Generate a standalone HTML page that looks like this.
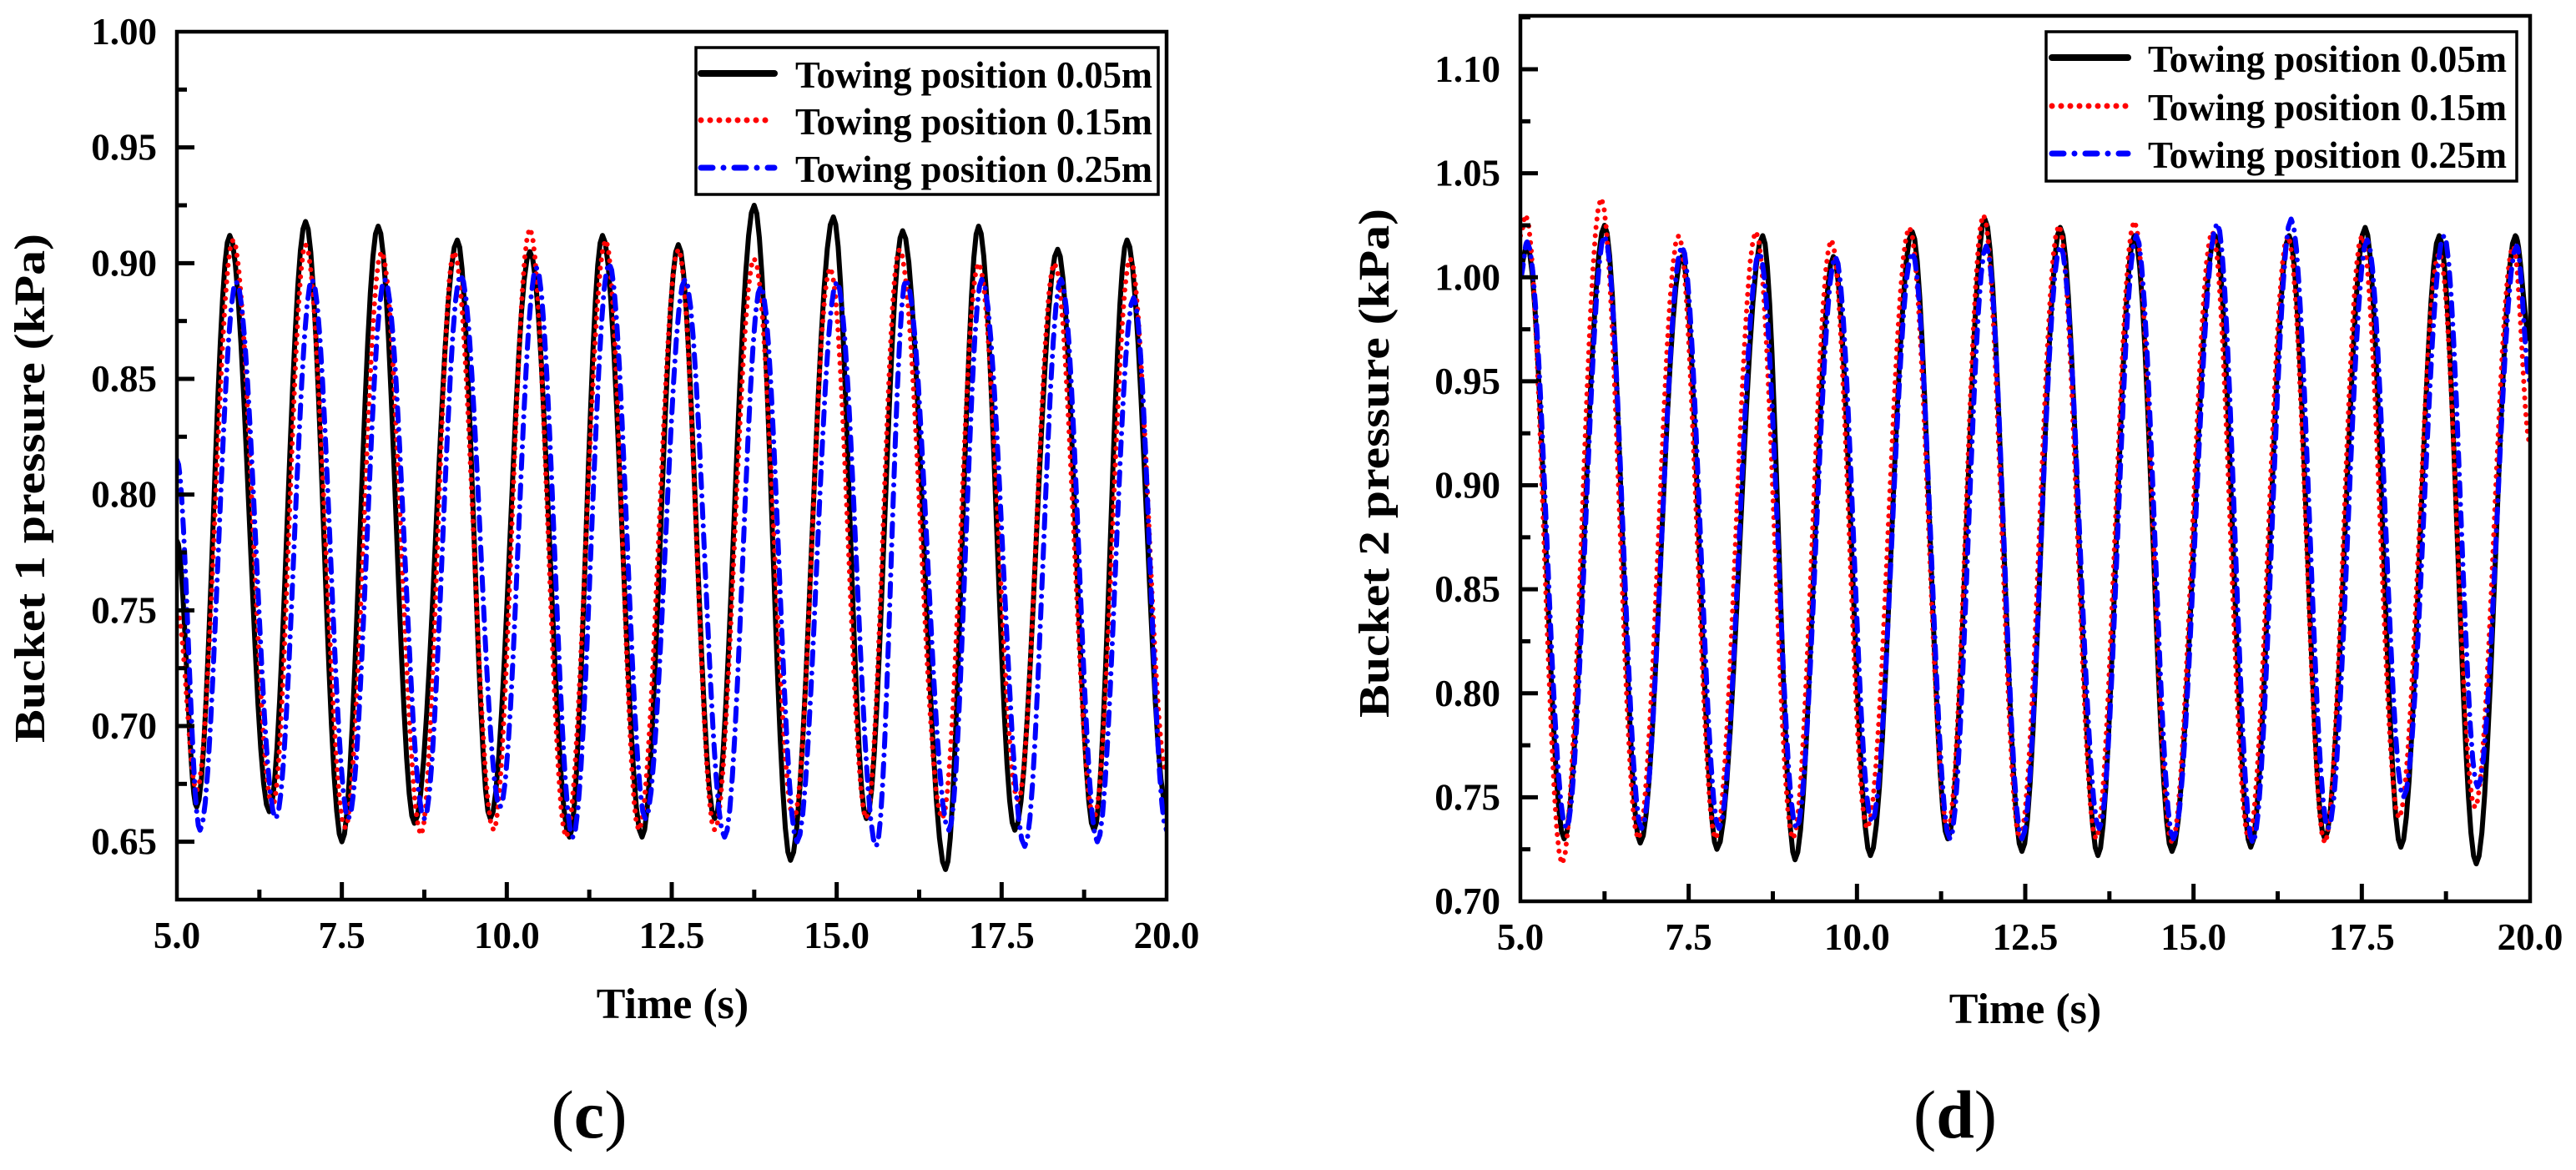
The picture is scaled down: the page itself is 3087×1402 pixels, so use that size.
<!DOCTYPE html>
<html><head><meta charset="utf-8"><style>
html,body{margin:0;padding:0;background:#fff;overflow:hidden;}
svg{display:block;font-family:"Liberation Serif","DejaVu Serif",serif;font-weight:bold;}
svg text{font-family:"Liberation Serif","DejaVu Serif",serif;}
</style></head><body>
<svg id="s" width="3087" height="1402" viewBox="0 0 3087 1402" xmlns="http://www.w3.org/2000/svg" font-family="Liberation Serif, serif"></svg>
<script>
// ---------- Data: chart (c) Bucket 1 ----------
const cBlackT=[5.0,5.3,5.8,6.4,6.95,7.5,8.05,8.6,9.25,9.75,10.35,10.95,11.45,12.05,12.6,13.15,13.75,14.3,14.95,15.45,16.0,16.65,17.15,17.7,18.35,18.9,19.4,20.0];
const cBlackV=[0.78,0.665,0.912,0.663,0.918,0.65,0.916,0.658,0.91,0.66,0.905,0.652,0.912,0.652,0.908,0.66,0.925,0.642,0.92,0.66,0.914,0.638,0.916,0.655,0.906,0.655,0.91,0.665];
const cRedT=[5.0,5.3,5.85,6.45,6.95,7.55,8.1,8.7,9.2,9.8,10.35,10.9,11.5,12.0,12.6,13.15,13.75,14.35,14.9,15.45,15.95,16.6,17.15,17.75,18.3,18.9,19.45,20.0];
const cRedV=[0.75,0.672,0.91,0.665,0.908,0.656,0.905,0.653,0.905,0.655,0.915,0.652,0.91,0.655,0.906,0.655,0.902,0.66,0.898,0.66,0.906,0.66,0.9,0.668,0.9,0.66,0.902,0.68];
const cBlueT=[5.0,5.35,5.9,6.5,7.05,7.6,8.15,8.75,9.3,9.9,10.45,11.0,11.55,12.1,12.7,13.3,13.85,14.4,15.0,15.6,16.05,16.7,17.2,17.85,18.4,18.95,19.5,20.0];
const cBlueV=[0.815,0.655,0.892,0.66,0.893,0.66,0.893,0.66,0.895,0.665,0.898,0.652,0.9,0.66,0.893,0.652,0.89,0.65,0.892,0.648,0.893,0.655,0.893,0.648,0.893,0.65,0.885,0.655];
const cYTicks=[0.65,0.70,0.75,0.80,0.85,0.90,0.95,1.00];
const cXTicks=[5.0,7.5,10.0,12.5,15.0,17.5,20.0];
// ---------- Data: chart (d) Bucket 2 ----------
const dBlackT=[5.0,5.1,5.65,6.25,6.78,7.4,7.92,8.6,9.08,9.65,10.2,10.82,11.35,11.9,12.45,13.02,13.58,14.12,14.68,15.32,15.85,16.42,16.95,17.55,18.08,18.65,19.2,19.78,20.0];
const dBlackV=[1.005,1.015,0.73,1.025,0.728,1.01,0.725,1.02,0.72,1.01,0.722,1.022,0.73,1.028,0.724,1.024,0.722,1.02,0.724,1.02,0.726,1.02,0.73,1.024,0.726,1.02,0.718,1.02,0.97];
const dRedT=[5.0,5.08,5.62,6.2,6.75,7.35,7.9,8.5,9.05,9.62,10.15,10.78,11.35,11.88,12.42,13.0,13.55,14.12,14.68,15.28,15.82,16.4,16.95,17.5,18.05,18.65,19.18,19.75,20.0];
const dRedV=[1.02,1.03,0.718,1.038,0.73,1.02,0.73,1.022,0.73,1.018,0.735,1.024,0.735,1.03,0.73,1.025,0.73,1.027,0.728,1.022,0.73,1.02,0.728,1.02,0.74,1.012,0.745,1.015,0.92];
const dBlueT=[5.0,5.1,5.68,6.25,6.8,7.4,7.95,8.55,9.1,9.68,10.22,10.82,11.38,11.92,12.45,13.02,13.6,14.15,14.7,15.35,15.88,16.45,17.0,17.58,18.12,18.72,19.22,19.8,20.0];
const dBlueV=[1.0,1.017,0.735,1.02,0.735,1.015,0.735,1.012,0.735,1.01,0.738,1.012,0.73,1.015,0.73,1.015,0.735,1.02,0.73,1.026,0.728,1.028,0.735,1.018,0.75,1.02,0.755,1.015,0.95];
const dYTicks=[0.70,0.75,0.80,0.85,0.90,0.95,1.00,1.05,1.10];
const dXTicks=[5.0,7.5,10.0,12.5,15.0,17.5,20.0];
const legendLabels=["Towing position 0.05m","Towing position 0.15m","Towing position 0.25m"];

const NS="http://www.w3.org/2000/svg";
const svg=document.getElementById('s');
const FF="Liberation Serif, DejaVu Serif, serif";
function mk(tag,attrs,parent){const e=document.createElementNS(NS,tag);for(const k in attrs)e.setAttribute(k,attrs[k]);if(tag==='text')e.setAttribute('font-family',FF);(parent||svg).appendChild(e);return e;}
const styles=[
 {stroke:"#000",w:6,dash:null,cap:"round",lw:8,ldash:null},
 {stroke:"#ff0000",w:6,dash:"0 10",cap:"round",lw:7,ldash:"0 11"},
 {stroke:"#0000ff",w:6,dash:"16 10 0 10",cap:"round",lw:7,ldash:"14 13 0 13"}
];
function chart(cfg){
 const g=mk('g',{});
 
 
 const X=v=>cfg.x0+(v-cfg.xmin)/(cfg.xmax-cfg.xmin)*(cfg.x1-cfg.x0);
 const Y=v=>cfg.y1-(v-cfg.ymin)/(cfg.ymax-cfg.ymin)*(cfg.y1-cfg.y0);
 const clip=mk('clipPath',{id:cfg.name+'-clip'},g);
 mk('rect',{x:cfg.x0,y:cfg.y0,width:cfg.x1-cfg.x0,height:cfg.y1-cfg.y0},clip);
 cfg.series.forEach((s,i)=>{
  const T=s[0],V=s[1];let d="";
  for(let k=0;k<T.length-1;k++){
   const n=14;
   for(let j=(k==0?0:1);j<=n;j++){
    const f=j/n,c=(1-Math.cos(Math.PI*f))/2;
    const t=T[k]+(T[k+1]-T[k])*f,v=V[k]+(V[k+1]-V[k])*c;
    d+=(d?"L":"M")+X(t).toFixed(1)+","+Y(v).toFixed(1);
   }
  }
  const st=styles[i];
  const p=mk('path',{d:d,fill:"none",stroke:st.stroke,"stroke-width":st.w,"stroke-linecap":st.cap,"stroke-linejoin":"round","clip-path":"url(#"+cfg.name+"-clip)"},g);
  if(st.dash)p.setAttribute('stroke-dasharray',st.dash);
  
  
 });
 const fr=mk('rect',{x:cfg.x0,y:cfg.y0,width:cfg.x1-cfg.x0,height:cfg.y1-cfg.y0,fill:"none",stroke:"#000","stroke-width":4.5},g);
 
 
 const ystep=cfg.yTicks[1]-cfg.yTicks[0];
 for(let v=cfg.ymin;v<=cfg.ymax+1e-9;v+=ystep/2){
  const major=cfg.yTicks.some(t=>Math.abs(t-v)<1e-6);
  if(Math.abs(v-cfg.ymin)<1e-9||Math.abs(v-cfg.ymax)<1e-9)continue;
  mk('line',{x1:cfg.x0,x2:cfg.x0+(major?21:12),y1:Y(v),y2:Y(v),stroke:"#000","stroke-width":5},g);
 }
 cfg.yTicks.forEach(v=>{
  const t=mk('text',{x:cfg.x0-24,y:Y(v)+15,"text-anchor":"end","font-size":45},g);
  t.textContent=v.toFixed(2);
  
  
 });
 const xstep=cfg.xTicks[1]-cfg.xTicks[0];
 for(let v=cfg.xmin;v<=cfg.xmax+1e-9;v+=xstep/2){
  const major=cfg.xTicks.some(t=>Math.abs(t-v)<1e-6);
  if(Math.abs(v-cfg.xmin)<1e-9||Math.abs(v-cfg.xmax)<1e-9)continue;
  mk('line',{x1:X(v),x2:X(v),y1:cfg.y1,y2:cfg.y1-(major?21:12),stroke:"#000","stroke-width":5},g);
 }
 cfg.xTicks.forEach(v=>{
  const t=mk('text',{x:X(v),y:cfg.y1+58,"text-anchor":"middle","font-size":45},g);
  t.textContent=v.toFixed(1);
  
  
 });
 const yt=mk('text',{x:0,y:0,"text-anchor":"middle","font-size":52,textLength:610,lengthAdjust:"spacingAndGlyphs",transform:"translate("+cfg.ytx+","+cfg.yty+") rotate(-90)"},g);
 yt.textContent=cfg.ytitle;
 
 
 const xt=mk('text',{x:cfg.xtx,y:cfg.xty,"text-anchor":"middle","font-size":52},g);
 xt.textContent="Time (s)";
 
 
 const cap=mk('text',{x:cfg.capx,y:1363,"text-anchor":"middle","font-size":82,"font-weight":"normal"},g);
 cap.innerHTML='(<tspan font-weight="bold">'+cfg.caption+'</tspan>)';
 
 
 const L=cfg.leg;
 const lg=mk('g',{},g);
 
 
 mk('rect',{x:L.x0,y:L.y0,width:L.x1-L.x0,height:L.y1-L.y0,fill:"#fff",stroke:"#000","stroke-width":3.5},lg);
 legendLabels.forEach((lab,i)=>{
  const st=styles[i],yy=L.rows[i];
  const ln=mk('line',{x1:L.lx0+4,x2:L.lx1-4,y1:yy,y2:yy,stroke:st.stroke,"stroke-width":st.lw,"stroke-linecap":"round"},lg);
  if(st.ldash)ln.setAttribute('stroke-dasharray',st.ldash);
  const t=mk('text',{x:L.tx,y:yy+17,"font-size":45,textLength:L.tw,lengthAdjust:"spacingAndGlyphs"},lg);
  t.textContent=lab;
  
  
 });
}
chart({name:"chart-c",x0:212,x1:1398,y0:38,y1:1078,xmin:5,xmax:20,ymin:0.625,ymax:1.0,
 yTicks:cYTicks,xTicks:cXTicks,series:[[cBlackT,cBlackV],[cRedT,cRedV],[cBlueT,cBlueV]],
 ytitle:"Bucket 1 pressure (kPa)",ytx:53,yty:585,xtx:806,xty:1220,capx:706,caption:"c",
 leg:{x0:834,x1:1388,y0:57,y1:233,rows:[88,144,201],lx0:836,lx1:932,tx:953,tw:428}});
chart({name:"chart-d",x0:1822,x1:3032,y0:19,y1:1080,xmin:5,xmax:20,ymin:0.70,ymax:1.1257,
 yTicks:dYTicks,xTicks:dXTicks,series:[[dBlackT,dBlackV],[dRedT,dRedV],[dBlueT,dBlueV]],
 ytitle:"Bucket 2 pressure (kPa)",ytx:1664,yty:555,xtx:2427,xty:1226,capx:2343,caption:"d",
 leg:{x0:2452,x1:3016,y0:38,y1:217,rows:[69,127,184],lx0:2455,lx1:2554,tx:2574,tw:430}});
</script>
</body></html>
